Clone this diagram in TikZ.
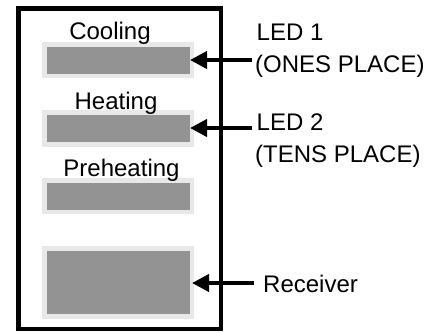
\documentclass[tikz,border=0pt]{standalone}
\usepackage{fontspec}
\setmainfont{Liberation Sans}
\usetikzlibrary{arrows.meta}
\definecolor{bardark}{HTML}{939393}
\definecolor{barlight}{HTML}{E8E8E8}
\begin{document}
\begin{tikzpicture}[x=1pt,y=-1pt,
  lbl/.style={font=\fontsize{24}{28}\selectfont, inner sep=0pt},
  barframe/.style={fill=barlight, draw=none},
  barcore/.style={fill=bardark, draw=none},
  pointer/.style={line width=4pt, -{Triangle[length=17pt,width=17pt]}}]
\useasboundingbox (0,0) rectangle (438,332);
% outer box
\draw[line width=4.6pt] (18.3,8.3) rectangle (220.8,329);
% bars
\fill[barframe] (42,42) rectangle (194,78);
\fill[barcore] (47,47) rectangle (190,74);
\fill[barframe] (42,110) rectangle (194,147);
\fill[barcore] (47,115) rectangle (190,142);
\fill[barframe] (42,178) rectangle (194,214);
\fill[barcore] (47,183) rectangle (190,210);
\fill[barframe] (42,246) rectangle (194,319);
\fill[barcore] (47,251) rectangle (190,314);
% bar targets
\coordinate (b1) at (190,60);
\coordinate (b2) at (190,128);
\coordinate (b4) at (192,283);
% bar labels
\node[lbl, anchor=base] (cool) at (110,39) {Cooling};
\node[lbl, anchor=base] (heat) at (116,109) {Heating};
\node[lbl, anchor=base] (preh) at (121.5,176.7) {Preheating};
% right labels
\node[lbl, anchor=base west] (led1) at (256.5,40) {LED 1};
\node[lbl, anchor=base west] (ones) at (255,72) {(ONES PLACE)};
\node[lbl, anchor=base west] (led2) at (256.5,130) {LED 2};
\node[lbl, anchor=base west] (tens) at (255,162) {(TENS PLACE)};
\node[lbl, anchor=base west] (recv) at (263,292) {Receiver};
% arrows
\coordinate (s1) at (252,60);
\coordinate (s2) at (252,128);
\coordinate (s4) at (254,283);
\draw[pointer] (s1) -- (b1);
\draw[pointer] (s2) -- (b2);
\draw[pointer] (s4) -- (b4);
\end{tikzpicture}
\end{document}
